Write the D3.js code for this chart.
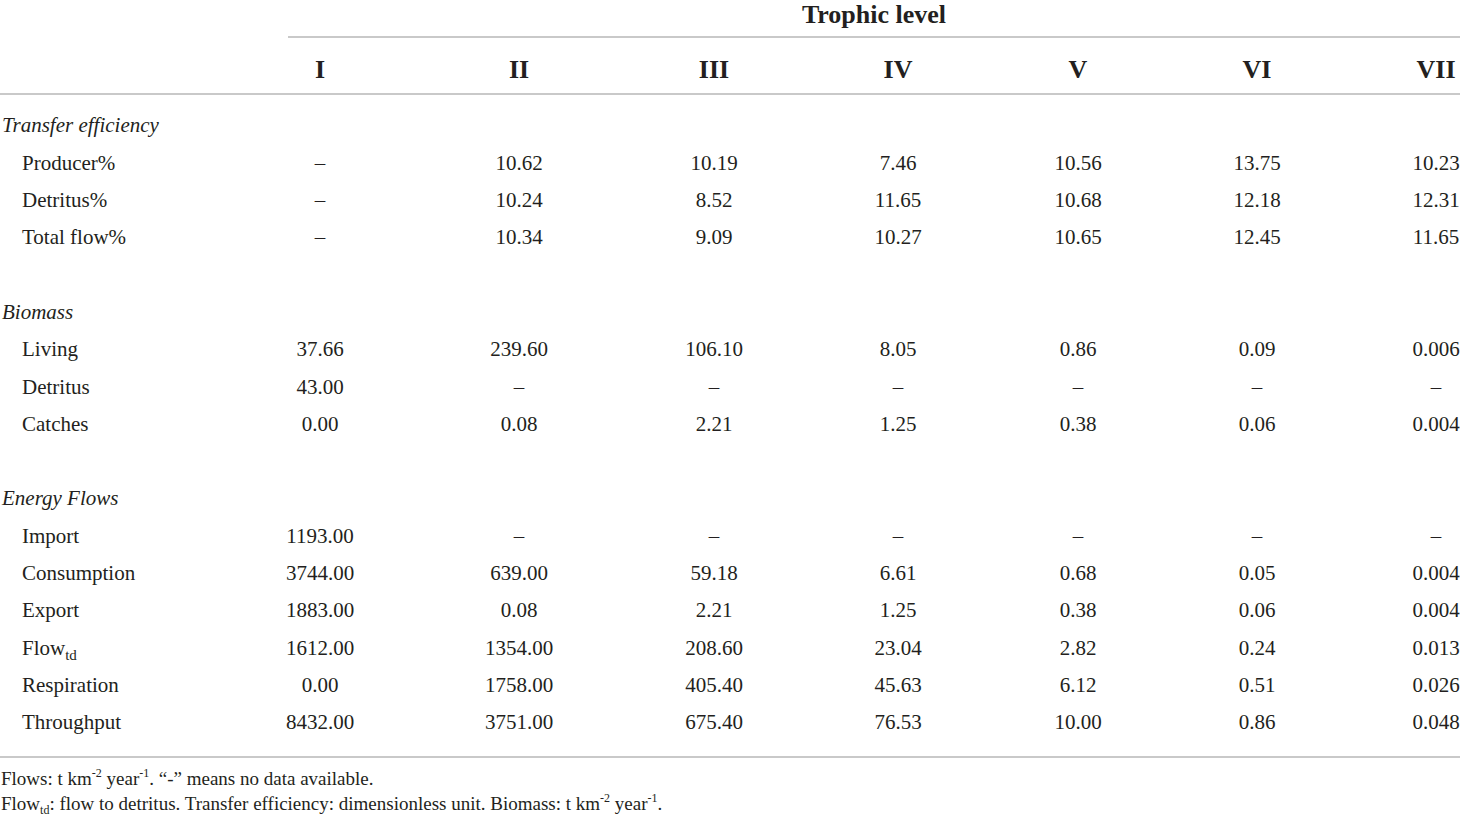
<!DOCTYPE html>
<html>
<head>
<meta charset="utf-8">
<script src="https://cdn.jsdelivr.net/npm/d3@7"></script>
<style>
  body { margin: 0; background: #fff; }
  svg text { font-family: "Liberation Serif", "DejaVu Serif", serif; fill: #231f20; }
</style>
</head>
<body>
<div id="container"></div>
<script>
// table content
const levels = ["I", "II", "III", "IV", "V", "VI", "VII"];
const sections = ["Transfer efficiency", "Biomass", "Energy Flows"];

const efficiencyRows = ["Producer%", "Detritus%", "Total flow%"];
const efficiencyValues = [
    [null, "10.62", "10.19", "7.46", "10.56", "13.75", "10.23"],
    [null, "10.24", "8.52", "11.65", "10.68", "12.18", "12.31"],
    [null, "10.34", "9.09", "10.27", "10.65", "12.45", "11.65"]
];

const biomassRows = ["Living", "Detritus", "Catches"];
const biomassValues = [
    ["37.66", "239.60", "106.10", "8.05", "0.86", "0.09", "0.006"],
    ["43.00", null, null, null, null, null, null],
    ["0.00", "0.08", "2.21", "1.25", "0.38", "0.06", "0.004"]
];

const flowRows = ["Import", "Consumption", "Export", "Flow|td", "Respiration", "Throughput"];
const flowValues = [
    ["1193.00", null, null, null, null, null, null],
    ["3744.00", "639.00", "59.18", "6.61", "0.68", "0.05", "0.004"],
    ["1883.00", "0.08", "2.21", "1.25", "0.38", "0.06", "0.004"],
    ["1612.00", "1354.00", "208.60", "23.04", "2.82", "0.24", "0.013"],
    ["0.00", "1758.00", "405.40", "45.63", "6.12", "0.51", "0.026"],
    ["8432.00", "3751.00", "675.40", "76.53", "10.00", "0.86", "0.048"]
];

const width = 1460;
const height = 816;

const svg = d3.select("#container")
    .append("svg")
    .attr("width", width)
    .attr("height", height);

// column centres (table columns are sized by content, so not evenly spaced)
const x = d3.scaleOrdinal()
    .domain(levels)
    .range([320, 519, 714, 898, 1078, 1257, 1436]);

// build the body rows: section title, its rows, then a blank spacer
const rows = [];
[[efficiencyRows, efficiencyValues], [biomassRows, biomassValues], [flowRows, flowValues]]
    .forEach(([labels, values], s) => {
        rows.push({ type: "section", label: sections[s] });
        labels.forEach((label, i) => rows.push({ type: "row", label, values: values[i] }));
        if (s < sections.length - 1) rows.push({ type: "blank" });
    });

const y = d3.scaleLinear()
    .domain([0, rows.length - 1])
    .range([125, 722]);

const lineColor = "#c9c9c9";

// header
svg.append("text")
    .attr("x", d3.mean([288, width]))
    .attr("y", 14)
    .attr("dy", "0.35em")
    .attr("text-anchor", "middle")
    .attr("font-weight", "bold")
    .attr("font-size", 26)
    .text("Trophic level");

svg.append("line")
    .attr("x1", 288).attr("x2", width)
    .attr("y1", 37).attr("y2", 37)
    .attr("stroke", lineColor).attr("stroke-width", 2);

svg.append("g")
    .selectAll("text")
    .data(levels)
    .join("text")
    .attr("x", d => x(d))
    .attr("y", 69)
    .attr("dy", "0.35em")
    .attr("text-anchor", "middle")
    .attr("font-weight", "bold")
    .attr("font-size", 26)
    .text(d => d);

svg.append("line")
    .attr("x1", 0).attr("x2", width)
    .attr("y1", 94).attr("y2", 94)
    .attr("stroke", lineColor).attr("stroke-width", 2);

// body
const body = svg.append("g").attr("font-size", 21);

rows.forEach((r, i) => {
    if (r.type === "blank") return;
    const cy = y(i);
    if (r.type === "section") {
        body.append("text")
            .attr("x", 2)
            .attr("y", cy)
            .attr("dy", "0.35em")
            .attr("font-style", "italic")
            .text(r.label);
        return;
    }
    const label = body.append("text")
        .attr("x", 22)
        .attr("y", cy)
        .attr("dy", "0.35em");
    const [main, sub] = r.label.split("|");
    label.append("tspan").text(main);
    if (sub) {
        label.append("tspan")
            .attr("font-size", 15)
            .attr("dy", 5)
            .text(sub);
    }
    body.append("g")
        .selectAll("text")
        .data(r.values)
        .join("text")
        .attr("x", (d, j) => x(levels[j]))
        .attr("y", cy)
        .attr("dy", "0.35em")
        .attr("text-anchor", "middle")
        .text(d => d === null ? "\u2013" : d);
});

svg.append("line")
    .attr("x1", 0).attr("x2", width)
    .attr("y1", 757).attr("y2", 757)
    .attr("stroke", lineColor).attr("stroke-width", 2);

// footnotes
const notes = svg.append("g").attr("font-size", 19);

const n1 = notes.append("text").attr("x", 1).attr("y", 785);
n1.append("tspan").text("Flows: t km");
n1.append("tspan").attr("font-size", 12).attr("dy", -8).text("-2");
n1.append("tspan").attr("dy", 8).text(" year");
n1.append("tspan").attr("font-size", 12).attr("dy", -8).text("-1");
n1.append("tspan").attr("dy", 8).text(". \u201c-\u201d means no data available.");

const n2 = notes.append("text").attr("x", 1).attr("y", 810);
n2.append("tspan").text("Flow");
n2.append("tspan").attr("font-size", 12).attr("dy", 4).text("td");
n2.append("tspan").attr("dy", -4).text(": flow to detritus. Transfer efficiency: dimensionless unit. Biomass: t km");
n2.append("tspan").attr("font-size", 12).attr("dy", -8).text("-2");
n2.append("tspan").attr("dy", 8).text(" year");
n2.append("tspan").attr("font-size", 12).attr("dy", -8).text("-1");
n2.append("tspan").attr("dy", 8).text(".");
</script>
</body>
</html>
